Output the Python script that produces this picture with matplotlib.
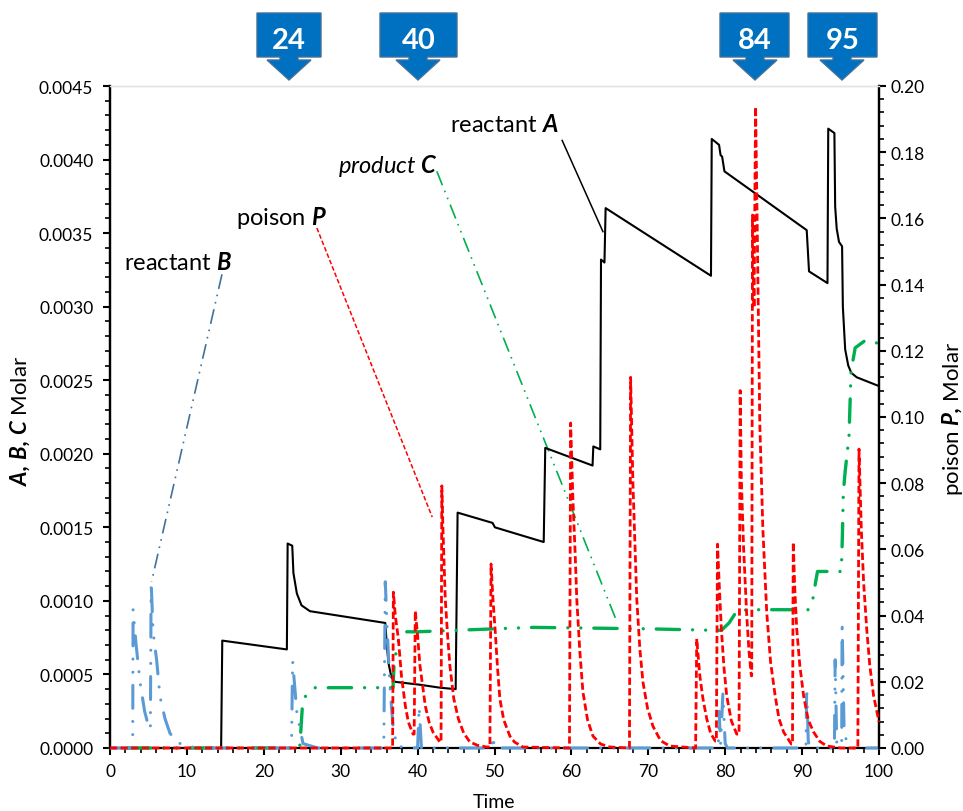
import matplotlib
matplotlib.use('Agg')
import matplotlib.pyplot as plt
from matplotlib.patches import Polygon

plt.rcParams['font.family'] = ['Lato', 'DejaVu Sans']
plt.rcParams['mathtext.fontset'] = 'custom'
plt.rcParams['mathtext.rm'] = 'Lato'
plt.rcParams['mathtext.it'] = 'Lato:italic'
plt.rcParams['mathtext.bf'] = 'Lato:bold'
plt.rcParams['mathtext.bfit'] = 'Lato:italic:bold'

# reactant A, left axis
a_t = [0, 14.45, 14.6, 23.0, 23.1, 23.7, 23.85, 24.3, 24.9, 26, 35.8, 36, 36.2, 36.6, 37.05, 40.3, 42.9, 44.95,
       45.2, 49.75, 50.05, 56.4, 56.6, 62.75, 62.85, 63.75, 63.85, 64.3, 64.45, 78.15, 78.25, 79.2, 79.4, 79.6,
       79.9, 90.6, 90.9, 93.3, 93.4, 94.2, 94.3, 94.5, 94.8, 95.2, 95.3, 95.6, 96, 96.4, 97.1, 100]
a_v = [0, 0, 0.00073, 0.00067, 0.00139, 0.001375, 0.00119, 0.00105, 0.00097, 0.00093, 0.00085, 0.00070, 0.00058,
       0.00048, 0.00045, 0.00043, 0.00041, 0.00040, 0.00160, 0.00153, 0.00150, 0.00140, 0.00204, 0.00192, 0.00205,
       0.00203, 0.00332, 0.00330, 0.00367, 0.00321, 0.00414, 0.00410, 0.00403, 0.00402, 0.00392, 0.00352, 0.00324,
       0.00316, 0.00421, 0.00418, 0.00368, 0.00353, 0.00344, 0.00341, 0.00300, 0.00271, 0.00260, 0.00255, 0.00252,
       0.00246]

# product C, left axis
c_t = [0, 24.5, 24.7, 25, 25.4, 26.7, 36.8, 36.95, 37.5, 38, 38.5, 40, 50, 55, 70, 78.5, 79.5, 80.5, 81.5, 83,
       90.8, 91.5, 91.7, 92, 95.1, 95.2, 95.25, 95.35, 95.45, 95.6, 96.1, 96.36, 96.6, 96.9, 98.2, 100]
c_v = [0, 0, 0.00002, 0.00027, 0.00035, 0.00041, 0.00041, 0.00058, 0.00073, 0.00077, 0.00079, 0.00079, 0.00081,
       0.00082, 0.00081, 0.00080, 0.00080, 0.00085, 0.00093, 0.00094, 0.00094, 0.00103, 0.00111, 0.00120, 0.00120,
       0.00137, 0.00147, 0.00171, 0.00179, 0.00188, 0.00212, 0.00255, 0.00263, 0.00272, 0.00277, 0.00275]

# reactant B, left axis
b_t = [0, 2.95, 3.0, 3.4, 3.9, 4.5, 5.1, 5.25, 5.35, 5.6, 6.06, 6.5, 7.15, 7.8, 8.7, 10, 12, 23.6, 23.75, 24.3,
       25.1, 27, 35.6, 35.8, 36, 36.4, 36.8, 37.3, 40.0, 40.2, 40.5, 49.6, 49.8, 50.0, 79.1, 79.2, 79.4, 79.7,
       80.0, 80.3, 90.5, 90.6, 90.8, 91.0, 94.2, 94.3, 94.5, 95, 95.15, 95.2, 95.45, 95.8, 96.6, 100]
b_v = [0, 0, 0.00094, 0.00070, 0.00045, 0.00025, 0.00013, 0.00013, 0.00113, 0.00079, 0.00060, 0.00035, 0.00020,
       0.00010, 0.00004, 0.00001, 0, 0, 0.00059, 0.00024, 0.00003, 0, 0, 0.00113, 0.00086, 0.00042, 0.00015,
       0.00001, 0, 0.00028, 0, 0, 0.00008, 0, 0, 0.00025, 0.00003, 0.00037, 0.00003, 0, 0, 0.00041, 0.00005, 0,
       0, 0.00060, 0.00004, 0.00001, 0.00001, 0.00086, 0.00015, 0.00003, 0, 0]

# poison P, right axis
p_t = [0, 36.75, 36.85, 37.1, 37.5, 37.9, 38.4, 38.8, 39.4, 39.55,
       39.7, 40.0, 40.3, 40.7, 41, 41.5, 42, 42.9, 43.05,
       43.15, 43.3, 43.6, 43.9, 44.2, 44.7, 45.3, 46, 46.8, 47.8, 49, 49.4,
       49.55, 49.8, 50.1, 50.4, 50.7, 51.2, 52, 52.6, 53.7, 59.75,
       59.9, 60.2, 60.5, 60.7, 61.1, 61.5, 62.1, 62.8, 63.8, 65, 67.55,
       67.7, 68.0, 68.5, 68.9, 69.3, 69.9, 70.6, 71.6, 72.8, 76.15,
       76.3, 76.7, 77.1, 77.6, 78.1, 78.7, 78.85,
       79.0, 79.25, 79.5, 79.85, 80.2, 80.8, 81.5, 81.8,
       81.95, 82.1, 82.4, 82.8, 83.1, 83.4, 83.45,
       83.55, 83.75, 83.95, 84.15, 84.3, 84.5, 84.9, 85.4, 85.9, 86.5, 87, 87.6, 88.6, 88.75,
       88.85, 89.05, 89.3, 89.7, 90.2, 90.8, 91.5, 92.3, 93.2, 95, 97.25,
       97.4, 97.7, 98, 98.4, 98.8, 99.3, 100]
p_v = [0, 0, 0.0471, 0.040, 0.033, 0.0218, 0.0128, 0.0078, 0.0042, 0.0042,
       0.0414, 0.034, 0.025, 0.018, 0.0127, 0.0078, 0.0048, 0.0018, 0.0018,
       0.0792, 0.066, 0.045, 0.034, 0.0248, 0.015, 0.0088, 0.0045, 0.0018, 0.0008, 0.0003, 0.0003,
       0.0556, 0.045, 0.035, 0.024, 0.0148, 0.0085, 0.0036, 0.0018, 0.0003, 0,
       0.0982, 0.075, 0.058, 0.045, 0.029, 0.0169, 0.0085, 0.0036, 0.0012, 0.0003, 0,
       0.112, 0.08, 0.045, 0.03, 0.02, 0.012, 0.0066, 0.0022, 0.0006, 0,
       0.033, 0.0218, 0.015, 0.0088, 0.0045, 0.0021, 0.0021,
       0.0616, 0.048, 0.036, 0.024, 0.0157, 0.0082, 0.0042, 0.0042,
       0.108, 0.081, 0.06, 0.04, 0.029, 0.0218, 0.0218,
       0.161, 0.133, 0.1937, 0.16, 0.133, 0.098, 0.066, 0.041, 0.026, 0.0157, 0.0088, 0.0048, 0.0012, 0.0012,
       0.0622, 0.048, 0.036, 0.025, 0.0157, 0.0085, 0.0048, 0.002, 0.0006, 0, 0,
       0.0903, 0.066, 0.05, 0.036, 0.025, 0.0157, 0.0079]

callout_labels = ['24', '40', '84', '95']
callout_left = [257, 380, 720, 808]
callout_right = [321, 457, 789, 877]
callout_tip = [289, 418, 755, 842]

fig = plt.figure(figsize=(9.63, 8.12), dpi=100)
ax = fig.add_axes([110 / 963, 1 - 749 / 812, 769 / 963, 662 / 812])
ax2 = ax.twinx()

ax.plot(a_t, a_v, color='black', lw=1.5, zorder=3)
ax.plot(c_t, c_v, color='#00B050', lw=2.4, linestyle=(13.5, (7, 3.9, 0.01, 3.9, 0.01, 3.9)),
        dash_capstyle='round', zorder=4, clip_on=False)
ax.plot(b_t, b_v, color='#5B9BD5', lw=2.2, linestyle=(0, (7.5, 4.3, 0.01, 4.3, 0.01, 4.3)),
        dash_capstyle='round', zorder=5, clip_on=False)
ax2.plot(p_t, p_v, color='#FF0000', lw=2.0, linestyle=(0, (2.6, 1.2)), clip_on=False, zorder=3)

# leader lines from the names to their curves
ax.plot([14.56, 5.4], [0.00322, 0.00113], color='#41719C', lw=1.2, linestyle=(0, (9, 3.5, 1, 3.5, 1, 3.5)))
ax.plot([26.9, 41.9], [0.003535, 0.00157], color='#FF0000', lw=1.1, linestyle=(0, (3, 1.5)))
ax.plot([42.5, 65.9], [0.00392, 0.00086], color='#00B050', lw=1.2, linestyle=(0, (9, 3.5, 1, 3.5, 1, 3.5)))
ax.plot([58.8, 64.1], [0.00413, 0.00351], color='black', lw=1.1)

ax.set_xlim(0, 100)
ax.set_ylim(0, 0.0045)
ax2.set_ylim(0, 0.20)
ax.set_xticks(range(0, 101, 10))
ax.set_xticks(range(0, 101, 2), minor=True)
ax.set_yticks([i * 0.0005 for i in range(10)])
ax.set_yticklabels([f'{i * 0.0005:.4f}' for i in range(10)])
ax.set_yticks([i * 0.0001 for i in range(46)], minor=True)
ax2.set_yticks([i * 0.02 for i in range(11)])
ax2.set_yticklabels([f'{i * 0.02:.2f}' for i in range(11)])
ax2.set_yticks([i * 0.004 for i in range(51)], minor=True)

for a in (ax, ax2):
    a.tick_params(which='major', direction='out', length=5, width=1.5, labelsize=12.5)
    a.tick_params(which='minor', direction='out', length=3.5, width=1.2)
    for side in ('left', 'right', 'bottom'):
        a.spines[side].set_linewidth(1.6)
    a.spines['top'].set_color('#E4E4E4')
    a.spines['top'].set_linewidth(1)
ax2.spines['bottom'].set_visible(False)
ax.tick_params(axis='x', which='major', pad=6)
ax.tick_params(axis='y', which='major', pad=7)
ax2.patch.set_visible(False)

fig.text(494 / 963, 1 - 803 / 812, 'Time', ha='center', va='center', fontsize=14)
fig.text(20 / 963, 1 - 421 / 812, r'$\mathbfit{A{,}\ B{,}\ C}$ Molar', rotation=90,
         ha='center', va='center', fontsize=16)
fig.text(952 / 963, 1 - 419 / 812, r'poison $\mathbfit{P{,}}$ Molar', rotation=90,
         ha='center', va='center', fontsize=16)

fig.text(232 / 963, 1 - 263 / 812, r'reactant $\mathbfit{B}$', ha='right', va='center', fontsize=17)
fig.text(327 / 963, 1 - 218 / 812, r'poison $\mathbfit{P}$', ha='right', va='center', fontsize=17)
fig.text(438 / 963, 1 - 166 / 812, r'$\mathit{product}$ $\mathbfit{C}$', ha='right', va='center', fontsize=17)
fig.text(559 / 963, 1 - 125 / 812, r'reactant $\mathbfit{A}$', ha='right', va='center', fontsize=17)

# blue callouts above the plot, in figure pixels
for label, left, right, tip in zip(callout_labels, callout_left, callout_right, callout_tip):
    px = [(left, 14), (right, 14), (right, 58), (tip + 9, 58), (tip + 9, 61), (tip + 22, 61), (tip, 81),
          (tip - 22, 61), (tip - 9, 61), (tip - 9, 58), (left, 58)]
    pts = [(x / 963, 1 - y / 812) for x, y in px]
    fig.add_artist(Polygon(pts, closed=True, facecolor='#0070C0', edgecolor='#41719C', lw=1,
                           transform=fig.transFigure))
    fig.text((left + right) / 2 / 963, 1 - 41 / 812, label, color='white', fontweight='bold',
             ha='center', va='center', fontsize=21)

plt.savefig('out.png', dpi=100)
plt.close()
